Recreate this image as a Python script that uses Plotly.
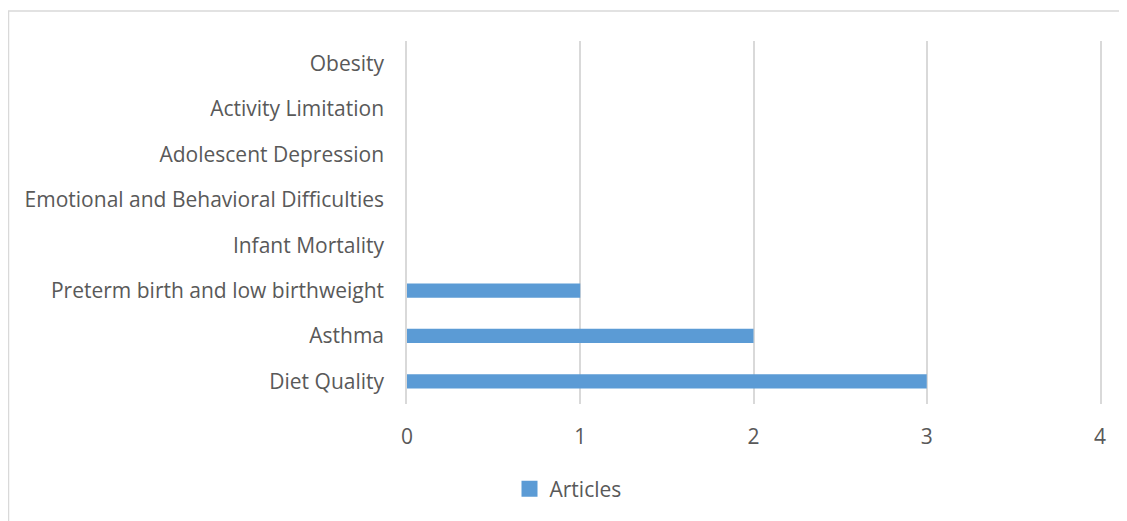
import plotly.graph_objects as go

categories = ["Diet Quality", "Asthma", "Preterm birth and low birthweight", "Infant Mortality",
              "Emotional and Behavioral Difficulties", "Adolescent Depression",
              "Activity Limitation", "Obesity"]
articles = [3, 2, 1, 0, 0, 0, 0, 0]
x_ticks = [0, 1, 2, 3, 4]

FONT = "Open Sans"
TXT = "#595959"
FS = 21
GRID = "#d9d9d9"

W, H = 1127, 521
L, T = 399, 33
R = W - 1092
B = H - 396
pw, ph = W - L - R, H - T - B

def px_x(p):
    return (p - L) / pw

def px_y(p):
    return (H - B - p) / ph

fig = go.Figure()
fig.add_trace(go.Bar(
    y=categories, x=articles, orientation="h", name="Articles", showlegend=False,
    marker=dict(color="#5b9bd5", line=dict(width=0)),
))
fig.add_trace(go.Scatter(
    x=[None], y=[None], mode="markers", name="Articles", showlegend=True,
    marker=dict(symbol="square", size=16, color="#5b9bd5"),
))

fig.update_layout(
    width=W, height=H,
    margin=dict(l=L, r=R, t=T, b=B),
    paper_bgcolor="white", plot_bgcolor="white",
    font=dict(family=FONT, size=FS, color=TXT),
    bargap=0.684,
    showlegend=True,
    legend=dict(orientation="h", x=px_x(560), xanchor="center",
                y=px_y(481), yanchor="middle",
                font=dict(size=FS, color=TXT), itemwidth=30),
    xaxis=dict(range=[0, 4], tickvals=x_ticks, showgrid=True, gridcolor=GRID,
               gridwidth=1.5, zeroline=False, showline=False, ticks="",
               ticklabelstandoff=18, tickfont=dict(size=FS, color=TXT)),
    yaxis=dict(categoryorder="array", categoryarray=categories, showgrid=False,
               zeroline=False, showline=True, mirror=True, linecolor=GRID, linewidth=1.5,
               ticks="", ticklabelstandoff=17,
               tickfont=dict(size=FS, color=TXT), automargin=False),
    shapes=[dict(type="rect", xref="paper", yref="paper",
                 x0=px_x(0.5), x1=px_x(1140),
                 y0=px_y(540), y1=px_y(3),
                 line=dict(color=GRID, width=1.5), fillcolor="rgba(0,0,0,0)", layer="below")],
)

fig.write_html("out.html")
